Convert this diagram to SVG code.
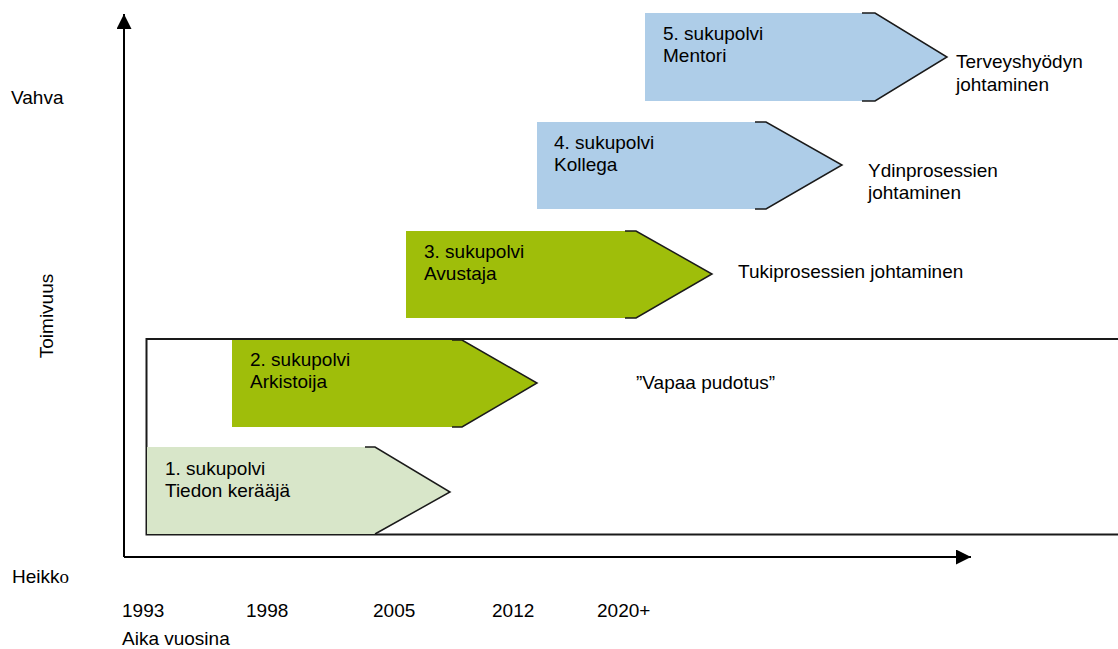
<svg xmlns="http://www.w3.org/2000/svg" width="1118" height="649" viewBox="0 0 1118 649">
<style>
text{font-family:"Liberation Sans",Arial,sans-serif;font-size:19px;fill:#000}
.edge{fill:none;stroke:#1a1a1a;stroke-width:1.5}
.ax{stroke:#000;stroke-width:2;fill:none}
.blue{fill:#aecde8}
.olive{fill:#9fbe0a}
.lgreen{fill:#d8e6c9}
</style>
<defs>
<marker id="ah" viewBox="0 0 10 10" refX="10" refY="5" markerWidth="15" markerHeight="15" markerUnits="userSpaceOnUse" orient="auto"><path d="M0,0 L10,5 L0,10 z" fill="#000"/></marker>
</defs>
<rect width="1118" height="649" fill="#fff"/>
<g id="frame">
<path d="M1120,339 H146.5 V534.5 H1120" fill="none" stroke="#1a1a1a" stroke-width="2"/>
</g>
<g id="connectors">
<line class="ax" x1="124" y1="557" x2="124" y2="14" marker-end="url(#ah)"/>
<line class="ax" x1="124" y1="557" x2="971" y2="557" marker-end="url(#ah)"/>
</g>
<g id="gen5">
<polygon class="blue" points="645,13 875,13 947,57 875,101 645,101"/>
<polyline class="edge" points="862,13 875,13 947,57 875,101 862,101"/>
<text x="663" y="40">5. sukupolvi</text>
<text x="663" y="62">Mentori</text>
</g>
<g id="gen4">
<polygon class="blue" points="537,122 766,122 842,165 766,209 537,209"/>
<polyline class="edge" points="755,122 766,122 842,165 766,209 755,209"/>
<text x="554" y="149">4. sukupolvi</text>
<text x="554" y="171">Kollega</text>
</g>
<g id="gen3">
<polygon class="olive" points="406,231 636,231 712,274 636,318 406,318"/>
<polyline class="edge" points="625,231 636,231 712,274 636,318 625,318"/>
<text x="424" y="258">3. sukupolvi</text>
<text x="424" y="280">Avustaja</text>
</g>
<g id="gen2">
<polygon class="olive" points="232,340 462,340 537,383 462,427 232,427"/>
<polyline class="edge" points="452,340 462,340 537,383 462,427 452,427"/>
<text x="250" y="366">2. sukupolvi</text>
<text x="250" y="388">Arkistoija</text>
</g>
<g id="gen1">
<polygon class="lgreen" points="147,447 375,447 450,492 375,534 147,534"/>
<polyline class="edge" points="365,447 375,447 450,492 375,534"/>
<text x="165" y="475">1. sukupolvi</text>
<text x="165" y="497">Tiedon kerääjä</text>
</g>
<g id="labels">
<text x="956" y="68">Terveyshyödyn</text>
<text x="956" y="91">johtaminen</text>
<text x="868" y="177">Ydinprosessien</text>
<text x="868" y="199">johtaminen</text>
<text x="738" y="278">Tukiprosessien johtaminen</text>
<text x="636" y="389">”Vapaa pudotus”</text>
<text x="11" y="104">Vahva</text>
<text transform="translate(53,316) rotate(-90)" text-anchor="middle">Toimivuus</text>
<text x="12" y="583">Heikk<tspan style="font-family:'Liberation Serif','Times New Roman',serif">o</tspan></text>
<text x="122" y="617">1993</text>
<text x="246" y="617">1998</text>
<text x="373" y="617">2005</text>
<text x="492" y="617">2012</text>
<text x="597" y="617">2020+</text>
<text x="122" y="645">Aika vuosina</text>
</g>
</svg>
